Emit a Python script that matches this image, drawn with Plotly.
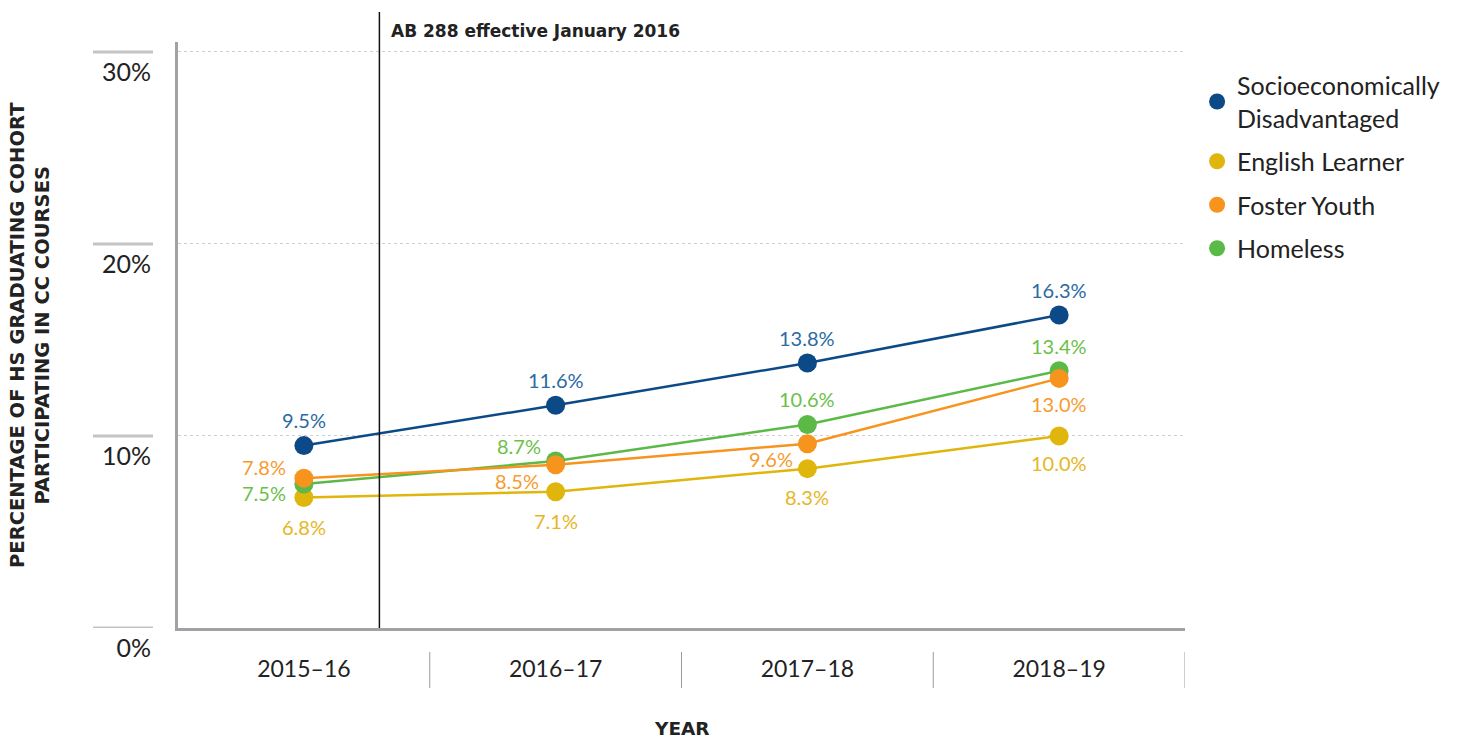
import plotly.graph_objects as go

years = ["2015–16", "2016–17", "2017–18", "2018–19"]
series_names = ["Socioeconomically<br>Disadvantaged", "English Learner", "Foster Youth", "Homeless"]
socio = [9.5, 11.6, 13.8, 16.3]
english = [6.8, 7.1, 8.3, 10.0]
foster = [7.8, 8.5, 9.6, 13.0]
homeless = [7.5, 8.7, 10.6, 13.4]
y_ticks = [0, 10, 20, 30]
y_tick_labels = ["0%", "10%", "20%", "30%"]
policy_x = 0.3  # position between first and second year (category index units)
policy_text = "AB 288 effective January 2016"

FONT = "Lato"
BOLD = "DejaVu Sans"
line_colors = {"socio": "#0B4A87", "english": "#E0B50C", "foster": "#F7941D", "homeless": "#5BB947"}
label_colors = {"socio": "#2B6AA3", "english": "#E6B624", "foster": "#F79A2E", "homeless": "#6CC04A"}

fig = go.Figure()

data = {"socio": socio, "english": english, "foster": foster, "homeless": homeless}
names = {"socio": series_names[0], "english": series_names[1],
         "foster": series_names[2], "homeless": series_names[3]}

# data lines (drawn homeless before foster so orange sits on top)
for key in ["socio", "english", "homeless", "foster"]:
    fig.add_trace(go.Scatter(
        x=years, y=data[key], name=names[key], mode="lines+markers",
        line=dict(color=line_colors[key], width=2.5),
        marker=dict(color=line_colors[key], size=19),
        showlegend=False, hoverinfo="skip",
    ))

# legend entries (dot only)
for rank, key in enumerate(["socio", "english", "foster", "homeless"]):
    fig.add_trace(go.Scatter(
        x=[None], y=[None], name=names[key], mode="markers",
        marker=dict(color=line_colors[key], size=19),
        legendgroup=key, legendrank=rank + 1, showlegend=True,
    ))

# label offsets (xshift, yshift) in px relative to each point
offsets = {
    "socio": [(0, 26), (0, 25), (0, 25), (0, 25)],
    "english": [(0, -30), (0, -29), (0, -28), (0, -27)],
    "foster": [(-40, 11), (-39, -16), (-36, -15), (0, -26)],
    "homeless": [(-40, -9), (-37, 15), (0, 25), (0, 25)],
}
annotations = []
for key, vals in data.items():
    for i, v in enumerate(vals):
        dx, dy = offsets[key][i]
        annotations.append(dict(
            x=years[i], y=v, xref="x", yref="y", text=f"{v:.1f}%", showarrow=False,
            xshift=dx, yshift=dy, font=dict(family=FONT, size=20, color=label_colors[key]),
        ))

# policy text
annotations.append(dict(
    x=policy_x, y=1.0188, xref="x", yref="paper", text=f"<b>{policy_text}</b>",
    showarrow=False, xanchor="left", yanchor="middle", xshift=10,
    font=dict(family=BOLD, size=17, color="#222222"),
))
# axis titles
annotations.append(dict(
    x=-0.147, y=0.5, xref="paper", yref="paper", textangle=-90,
    text="<b>PERCENTAGE OF HS GRADUATING COHORT<br>PARTICIPATING IN CC COURSES</b>",
    showarrow=False, xanchor="center", yanchor="middle",
    font=dict(family=BOLD, size=19.5, color="#222222"),
))
annotations.append(dict(
    x=0.5, y=-0.172, xref="paper", yref="paper", text="<b>YEAR</b>",
    showarrow=False, xanchor="center", yanchor="middle",
    font=dict(family=BOLD, size=18.5, color="#222222"),
))

shapes = []
# vertical policy line
shapes.append(dict(type="line", xref="x", yref="paper", x0=policy_x, x1=policy_x,
                   y0=0, y1=1.051, line=dict(color="#111111", width=1.5)))
# left stubs at gridlines
for t in y_ticks:
    shapes.append(dict(type="line", xref="paper", yref="y", x0=-0.0844, x1=-0.0248,
                       y0=t, y1=t, line=dict(color="#C4C4C4", width=3)))
# category dividers below axis
for b in [0.5, 1.5, 2.5, 3.5]:
    shapes.append(dict(type="line", xref="x", yref="paper", x0=b, x1=b,
                       y0=-0.041, y1=-0.1024, line=dict(color="#9A9A9A", width=1)))

fig.update_layout(
    width=1470, height=739,
    margin=dict(l=178, r=285, t=42, b=111),
    paper_bgcolor="white", plot_bgcolor="white",
    font=dict(family=FONT, size=22, color="#222222"),
    showlegend=True,
    legend=dict(x=1.012, y=0.965, xanchor="left", yanchor="top",
                font=dict(family=FONT, size=25, color="#222222"),
                tracegroupgap=8, itemsizing="trace", bgcolor="rgba(0,0,0,0)"),
    annotations=annotations,
    shapes=shapes,
)
fig.update_xaxes(
    type="category", range=[-0.5, 3.5], showgrid=False, zeroline=False,
    showline=True, linecolor="#A0A2A5", linewidth=3, ticks="",
    tickfont=dict(family=FONT, size=23, color="#222222"), ticklabelstandoff=18,
)
fig.update_yaxes(
    range=[0, 30.52], tickvals=y_ticks, ticktext=y_tick_labels,
    showgrid=True, gridcolor="#CFCFCF", griddash="dot", gridwidth=1,
    zeroline=False, showline=True, linecolor="#A0A2A5", linewidth=3, ticks="",
    tickfont=dict(family=FONT, size=25, color="#222222"),
    ticklabelshift=20, ticklabelstandoff=19,
)

fig.write_html("out.html", config={"displayModeBar": False},
               post_script="document.body.style.margin='0';document.body.style.padding='0';")
